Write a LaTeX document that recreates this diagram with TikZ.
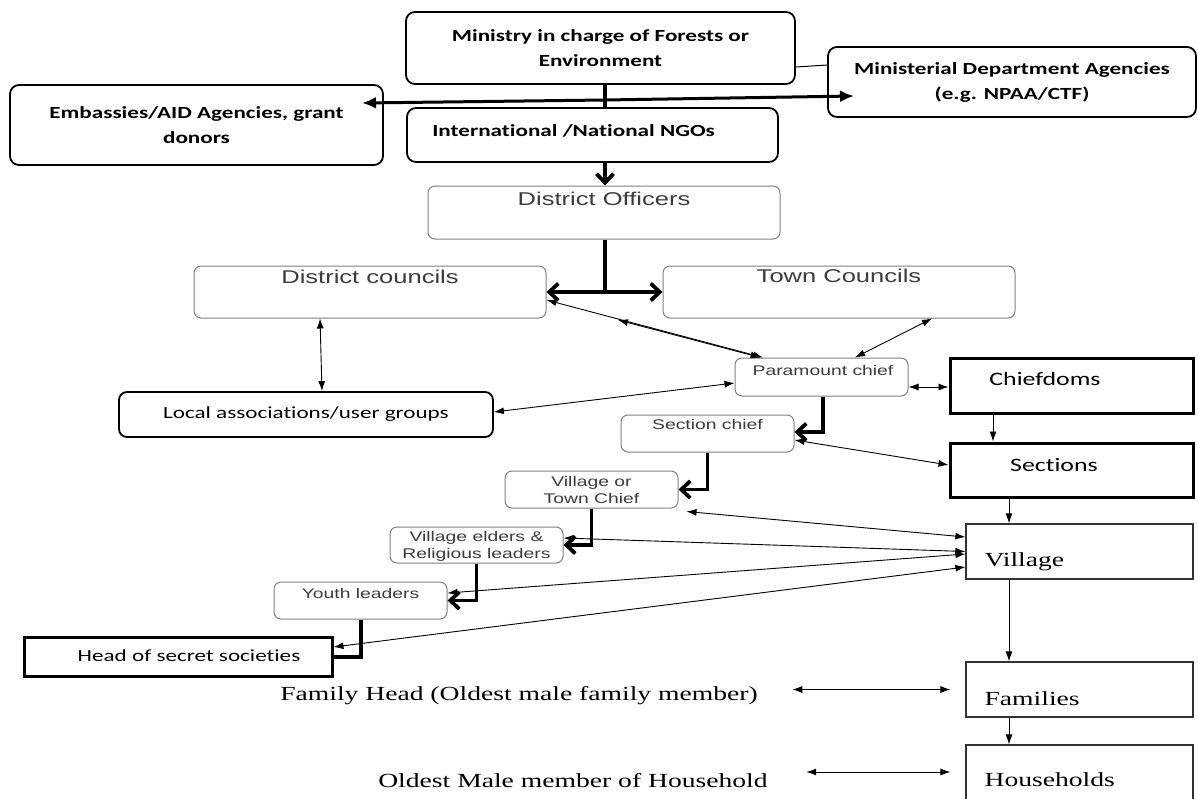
\documentclass[tikz,border=0pt]{standalone}
\usepackage{fontspec}
\usetikzlibrary{arrows.meta,calc}
\newfontfamily\calfont[FakeStretch=1.36,Ligatures=NoCommon]{Carlito}
\newfontfamily\arifont[FakeStretch=1.38]{Liberation Sans}
\newfontfamily\serfont[FakeStretch=1.38]{Liberation Serif}
\definecolor{boxgray}{HTML}{808080}
\definecolor{txtgray}{HTML}{3C3C3C}
\tikzset{
  calb/.style={font=\calfont\bfseries\fontsize{17}{25}\selectfont, inner sep=0pt},
  calr/.style={font=\calfont\fontsize{17}{21}\selectfont, inner sep=0pt},
  calrbig/.style={font=\calfont\fontsize{19}{23}\selectfont, inner sep=0pt},
  aril/.style={font=\arifont\fontsize{18.5}{22}\selectfont, text=txtgray, inner sep=0pt},
  arism/.style={font=\arifont\fontsize{14}{17}\selectfont, text=txtgray, inner sep=0pt},
  sert/.style={font=\serfont\fontsize{20}{24}\selectfont, text=black},
  calbox/.style={draw=black, line width=1.8pt, rounded corners=9pt, calb, align=center},
  calrbox/.style={draw=black, line width=1.8pt, rounded corners=8pt, calr, align=center},
  graybox/.style={draw=boxgray, line width=1pt, rounded corners=7pt, inner sep=0pt, text=txtgray},
  heavybox/.style={draw=black, line width=3pt, inner sep=0pt},
  serbox/.style={draw=black!80, line width=1.2pt, inner sep=0pt},
  thinarrow/.style={line width=0.9pt, {Latex[length=10pt,width=7pt]}-{Latex[length=10pt,width=7pt]}},
  thinto/.style={line width=0.9pt, -{Latex[length=10pt,width=7pt]}},
  thickline/.style={line width=4pt},
  thickto/.style={line width=3.8pt, -{Straight Barb[length=9pt,width=17pt]}},
  toparrow/.style={line width=3pt, -{Latex[length=14pt,width=12pt]}}
}
\begin{document}
\begin{tikzpicture}[x=1pt,y=-1pt]
\useasboundingbox (0,0) rectangle (1198,798);
\fill[white] (0,0) rectangle (1198,798);
\clip (0,0) rectangle (1198,798);

% top level boxes
\node[calbox, minimum width=389pt, minimum height=72pt] (min) at (600.5,48) {Ministry in charge of Forests or\\Environment};
\node[calbox, minimum width=368pt, minimum height=70pt] (mda) at (1012,82) {Ministerial Department Agencies\\(e.g. NPAA/CTF)};
\node[calbox, minimum width=373pt, minimum height=80pt] (emb) at (196.5,125) {Embassies/AID Agencies, grant\\donors};
\node[calbox, minimum width=371pt, minimum height=54pt,
  label={[calb, anchor=base, xshift=-19pt, yshift=-29pt]north:International /National NGOs}] (ngo) at (592.5,135) {};

% gray boxes
\node[graybox, minimum width=352pt, minimum height=53pt,
  label={[aril, anchor=base, yshift=-20pt]north:District Officers}] (do) at (604,212.5) {};
\node[graybox, minimum width=352pt, minimum height=52pt,
  label={[aril, anchor=base, yshift=-18pt]north:District councils}] (dc) at (370,292) {};
\node[graybox, minimum width=352pt, minimum height=52pt,
  label={[aril, anchor=base, yshift=-17pt]north:Town Councils}] (tc) at (839,292) {};
\node[graybox, minimum width=173pt, minimum height=38pt,
  label={[arism, anchor=base, xshift=1.5pt, yshift=-18pt]north:Paramount chief}] (pc) at (821.5,377) {};
\node[graybox, minimum width=173pt, minimum height=37pt,
  label={[arism, anchor=base, yshift=-15pt]north:Section chief}] (sc) at (707.5,433.5) {};
\node[graybox, minimum width=173pt, minimum height=37pt, font=\arifont\fontsize{14}{17}\selectfont, align=center] (vtc) at (591.5,489.5) {Village or\\Town Chief};
\node[graybox, minimum width=173pt, minimum height=36pt,
  label={[arism, anchor=base, align=center, yshift=-32pt]north:Village elders \&\\Religious leaders}] (ve) at (476.5,545) {};
\node[graybox, minimum width=173pt, minimum height=37pt,
  label={[arism, anchor=base, yshift=-17pt]north:Youth leaders}] (yl) at (360.5,600.5) {};

% black boxes
\node[calrbox, minimum width=374pt, minimum height=45pt] (la) at (306,414.5) {Local associations/user groups};
\node[heavybox, minimum width=243pt, minimum height=55pt,
  label={[calrbig, anchor=base, xshift=-26.5pt, yshift=-29pt]north:Chiefdoms}] (chf) at (1071.5,385.5) {};
\node[heavybox, minimum width=243pt, minimum height=54pt,
  label={[calrbig, anchor=base, xshift=-17.5pt, yshift=-30pt]north:Sections}] (sec) at (1071.5,470) {};
\node[heavybox, minimum width=308pt, minimum height=39pt,
  label={[calr, anchor=base, xshift=11pt, yshift=-26pt]north:Head of secret societies}] (hss) at (178,656.5) {};

% serif boxes
\node[serbox, minimum width=227pt, minimum height=55pt,
  label={[sert, inner sep=0pt, anchor=base west, xshift=19pt, yshift=-43pt]north west:Village}] (vil) at (1079.5,551.5) {};
\node[serbox, minimum width=227pt, minimum height=55pt,
  label={[sert, inner sep=0pt, anchor=base west, xshift=19pt, yshift=-44pt]north west:Families}] (fam) at (1079.5,689.5) {};
\node[serbox, minimum width=227pt, minimum height=70pt,
  label={[sert, inner sep=0pt, anchor=base west, xshift=19pt, yshift=-42pt]north west:Households}] (hh) at (1079.5,780) {};

\node[sert, anchor=base] (fh) at (519,700) {Family Head (Oldest male family member)};
\node[sert, anchor=base] (om) at (573,787) {Oldest Male member of Household};

% top connectors
\coordinate (hub) at (605,100);
\coordinate (embtip) at (362,103);
\coordinate (mdatip) at (854,96);
\draw[line width=1pt] ([yshift=-19pt]min.east) -- ([yshift=17pt]mda.west);
\draw[thickline] (min.south -| hub) -- (ngo.north -| hub);
\draw[toparrow] (hub) -- (embtip);
\draw[toparrow] (hub) -- (mdatip);
\draw[thickto] (ngo.south -| hub) -- (do.north -| hub);
\coordinate (hub2) at (605,292);
\draw[thickline] (do.south -| hub2) -- (hub2);
\draw[thickto] (hub2) -- (dc.east);
\draw[thickto] (hub2) -- (tc.west);

% thin connectors
\coordinate (mid1) at (618,320);
\draw[thinarrow] ([xshift=-50pt]dc.south) -- ([xshift=16pt]la.north);
\draw[thinarrow] ([yshift=-8pt]dc.east) -- ([xshift=-58.5pt]pc.north);
\draw[thinarrow] ([xshift=-61pt]pc.north) -- (mid1);
\draw[thinarrow] ([xshift=93pt]tc.south) -- ([xshift=33.5pt]pc.north);
\draw[thinarrow] ([yshift=2.5pt]la.east) -- ([yshift=-6pt]pc.west);
\draw[thinarrow] ([yshift=-10pt]pc.east) -- ([yshift=-1.5pt]chf.west);
\draw[thinto] ([xshift=-78.5pt]chf.south) -- ([xshift=-78.5pt]sec.north);
\draw[thinarrow] ([yshift=-6.5pt]sc.east) -- ([yshift=5pt]sec.west);
\draw[thinto] ([xshift=-62.5pt]sec.south) -- ([xshift=-70.5pt]vil.north);
\draw[thinarrow] ([xshift=8pt,yshift=-3pt]vtc.south east) -- ([yshift=14.5pt]vil.west);
\draw[thinarrow] ([yshift=7pt]ve.east) -- (vil.west);
\draw[thinarrow] ([yshift=7.5pt]yl.east) -- ([yshift=-2.5pt]vil.west);
\draw[thinarrow] ([yshift=9.5pt]hss.east) -- ([yshift=-15.5pt]vil.west);
\draw[thinto] ([xshift=-70.5pt]vil.south) -- ([xshift=-70.5pt]fam.north);
\draw[thinto] ([xshift=-70.5pt]fam.south) -- ([xshift=-70.5pt]hh.north);
\draw[thinarrow, shorten <=31pt, shorten >=15pt] (fam.west -| fh.east) -- (fam.west);
\draw[thinarrow, shorten <=35pt, shorten >=15pt] ([yshift=8pt]hh.west -| om.east) -- ([yshift=8pt]hh.west);

% thick elbow connectors
\draw[thickto] ([xshift=1.5pt]pc.south) |- ([yshift=1.5pt]sc.east);
\draw[thickto] (sc.south) |- (vtc.east);
\draw[thickto] (vtc.south) |- (ve.east);
\draw[thickto] (ve.south) |- (yl.east);
\draw[thickline] (yl.south) |- (hss.east);
\end{tikzpicture}
\end{document}
